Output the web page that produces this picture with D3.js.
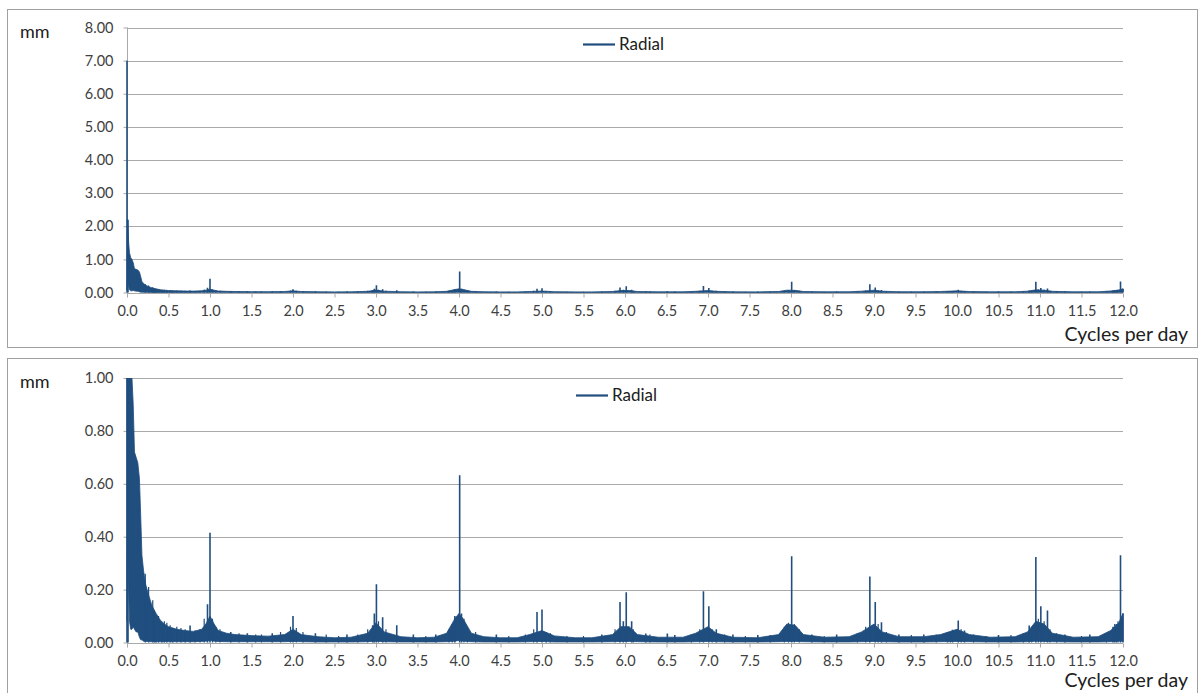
<!DOCTYPE html>
<html>
<head>
<meta charset="utf-8">
<script src="https://cdn.jsdelivr.net/npm/d3@7"></script>
<style>
  html, body { margin: 0; padding: 0; background: #ffffff; }
  svg { display: block; font-family: Lato, "Open Sans", sans-serif; }
</style>
</head>
<body>
<svg id="chart" width="1204" height="693"></svg>
<script>
// ---------------- DATA ----------------
const seriesName = "Radial";
const yUnit = "mm";
const xTitle = "Cycles per day";

// x tick values (cycles per day)
const xTicks = [0, 0.5, 1, 1.5, 2, 2.5, 3, 3.5, 4, 4.5, 5, 5.5, 6, 6.5, 7, 7.5, 8, 8.5, 9, 9.5, 10, 10.5, 11, 11.5, 12];
const yTicksTop = [0, 1, 2, 3, 4, 5, 6, 7, 8];
const yTicksBottom = [0, 0.2, 0.4, 0.6, 0.8, 1.0];

// dense noise floor of the spectrum: frequency, upper and lower envelope (mm)
const bandFreq = [0.000, 0.004, 0.010, 0.020, 0.030, 0.045, 0.060, 0.075, 0.090, 0.110, 0.130, 0.150, 0.165, 0.180, 0.200, 0.225, 0.250, 0.280, 0.300, 0.350, 0.400, 0.450, 0.500, 0.600, 0.700, 0.800, 0.900, 0.950, 1.000, 1.050, 1.100, 1.200, 1.300, 1.500, 1.700, 1.900, 2.000, 2.100, 2.300, 2.500, 2.700, 2.900, 3.000, 3.100, 3.300, 3.500, 3.700, 3.850, 3.950, 4.000, 4.050, 4.150, 4.300, 4.500, 4.700, 4.850, 5.000, 5.150, 5.400, 5.600, 5.850, 5.950, 6.050, 6.150, 6.400, 6.700, 6.850, 7.000, 7.100, 7.300, 7.600, 7.850, 7.950, 8.050, 8.150, 8.400, 8.700, 8.850, 9.000, 9.100, 9.300, 9.600, 9.800, 10.000, 10.150, 10.400, 10.700, 10.850, 10.950, 11.050, 11.150, 11.400, 11.700, 11.850, 11.950, 12.000];
const bandHigh = [1.00, 2.20, 2.00, 1.50, 1.20, 1.05, 1.00, 0.90, 0.72, 0.70, 0.68, 0.62, 0.48, 0.33, 0.27, 0.22, 0.19, 0.16, 0.14, 0.11, 0.085, 0.07, 0.06, 0.05, 0.045, 0.042, 0.05, 0.07, 0.10, 0.07, 0.045, 0.035, 0.03, 0.026, 0.024, 0.03, 0.05, 0.03, 0.022, 0.018, 0.02, 0.035, 0.075, 0.04, 0.022, 0.018, 0.02, 0.035, 0.09, 0.11, 0.09, 0.035, 0.022, 0.018, 0.018, 0.03, 0.045, 0.025, 0.018, 0.018, 0.03, 0.06, 0.06, 0.03, 0.02, 0.02, 0.035, 0.06, 0.035, 0.02, 0.018, 0.03, 0.07, 0.065, 0.03, 0.02, 0.022, 0.04, 0.07, 0.04, 0.022, 0.022, 0.03, 0.05, 0.03, 0.02, 0.022, 0.04, 0.08, 0.07, 0.035, 0.02, 0.022, 0.045, 0.075, 0.11];
const bandLow = [0.08, 0.40, 0.35, 0.20, 0.08, 0.05, 0.05, 0.06, 0.05, 0.04, 0.04, 0.02, 0.01, 0.01, 0.005, 0.004, 0.004, 0.003, 0.003, 0.003, 0.003, 0.003, 0.003, 0.003, 0.003, 0.003, 0.004, 0.005, 0.008, 0.005, 0.004, 0.003, 0.003, 0.003, 0.003, 0.003, 0.004, 0.003, 0.002, 0.002, 0.002, 0.003, 0.005, 0.003, 0.002, 0.002, 0.002, 0.003, 0.005, 0.008, 0.005, 0.003, 0.002, 0.002, 0.002, 0.003, 0.004, 0.002, 0.002, 0.002, 0.003, 0.004, 0.004, 0.003, 0.002, 0.002, 0.003, 0.004, 0.003, 0.002, 0.002, 0.003, 0.004, 0.004, 0.003, 0.002, 0.002, 0.003, 0.004, 0.003, 0.002, 0.002, 0.003, 0.004, 0.003, 0.002, 0.002, 0.003, 0.005, 0.004, 0.003, 0.002, 0.002, 0.003, 0.005, 0.005];

// narrow spectral peaks: frequency (cpd) and amplitude (mm)
const peakFreq = [0.000, 0.012, 0.35, 0.42, 0.55, 0.76, 0.97, 1.000, 1.25, 1.45, 1.75, 2.000, 2.27, 2.65, 2.96, 2.98, 3.005, 3.08, 3.25, 3.45, 3.72, 3.95, 4.008, 4.03, 4.45, 4.94, 5.00, 5.05, 5.72, 5.94, 5.98, 6.015, 6.08, 6.25, 6.51, 6.60, 6.945, 7.01, 7.10, 7.30, 7.60, 8.008, 8.25, 8.55, 8.95, 9.015, 9.09, 9.30, 9.60, 9.886, 9.946, 10.015, 10.09, 10.50, 10.87, 10.95, 11.01, 11.09, 11.30, 11.60, 11.88, 11.92, 11.97, 12.00];
const peakAmp = [7.00, 2.20, 0.07, 0.065, 0.055, 0.064, 0.145, 0.415, 0.04, 0.035, 0.035, 0.100, 0.035, 0.03, 0.065, 0.11, 0.220, 0.095, 0.065, 0.03, 0.03, 0.10, 0.632, 0.11, 0.03, 0.115, 0.125, 0.04, 0.03, 0.153, 0.08, 0.190, 0.08, 0.034, 0.034, 0.028, 0.194, 0.137, 0.05, 0.03, 0.028, 0.326, 0.03, 0.03, 0.250, 0.153, 0.077, 0.03, 0.03, 0.039, 0.048, 0.083, 0.045, 0.028, 0.064, 0.323, 0.137, 0.121, 0.03, 0.03, 0.06, 0.07, 0.330, 0.11];

// small spikes within the noise floor
const minorFreq = [0.22, 0.26, 0.31, 0.33, 0.38, 0.45, 0.48, 0.52, 0.60, 0.65, 0.70, 0.82, 0.88, 0.93, 1.03, 1.07, 1.12, 1.35, 1.55, 1.62, 1.85, 1.97, 2.04, 2.12, 2.40, 2.55, 2.78, 2.90, 3.03, 3.12, 3.60, 3.88, 3.92, 4.06, 4.10, 4.20, 4.60, 4.80, 4.90, 5.10, 5.30, 5.50, 5.88, 6.10, 6.30, 6.80, 6.90, 7.05, 7.20, 7.45, 7.75, 7.92, 7.97, 8.04, 8.10, 8.40, 8.80, 8.90, 9.05, 9.15, 9.45, 9.75, 9.92, 10.05, 10.20, 10.35, 10.65, 10.80, 10.90, 10.98, 11.05, 11.12, 11.20, 11.50, 11.80, 11.90, 11.94];
const minorAmp = [0.26, 0.21, 0.16, 0.12, 0.10, 0.08, 0.075, 0.065, 0.06, 0.055, 0.05, 0.045, 0.05, 0.09, 0.09, 0.06, 0.05, 0.035, 0.03, 0.03, 0.04, 0.06, 0.055, 0.04, 0.03, 0.025, 0.03, 0.05, 0.08, 0.05, 0.025, 0.05, 0.07, 0.09, 0.06, 0.04, 0.025, 0.03, 0.05, 0.035, 0.025, 0.025, 0.05, 0.05, 0.03, 0.03, 0.05, 0.05, 0.03, 0.025, 0.028, 0.06, 0.075, 0.07, 0.05, 0.025, 0.035, 0.06, 0.07, 0.04, 0.028, 0.03, 0.04, 0.05, 0.03, 0.025, 0.028, 0.035, 0.06, 0.09, 0.08, 0.05, 0.035, 0.025, 0.035, 0.07, 0.08];

const band = bandFreq.map((f, i) => ({ f, hi: bandHigh[i], lo: bandLow[i] }));
const peaks = peakFreq.map((f, i) => ({ f, v: peakAmp[i] }));
const minors = minorFreq.map((f, i) => ({ f, v: minorAmp[i] }));

// ---------------- DRAW ----------------
const svg = d3.select("#chart");
const lineColor = "#1f4e7f";
const gridColor = "#a9a9a9";
const textColor = "#404040";
const fontFam = "Lato, 'Open Sans', sans-serif";

function drawPanel(p) {
  const g = svg.append("g");
  // panel border
  g.append("rect")
    .attr("x", 7.5).attr("y", p.boxTop + 0.5)
    .attr("width", 1190).attr("height", p.boxH)
    .attr("fill", "#fff").attr("stroke", "#a0a0a0").attr("stroke-width", 1);

  const x = d3.scaleLinear().domain([0, 12]).range([127, 1123]);
  const y = d3.scaleLinear().domain([0, p.yMax]).range([p.yBot, p.yTop]);

  // horizontal gridlines
  g.append("g").selectAll("line").data(p.yTicks.filter(d => d > 0)).join("line")
    .attr("x1", 127).attr("x2", 1123)
    .attr("y1", d => Math.round(y(d)) + 0.5).attr("y2", d => Math.round(y(d)) + 0.5)
    .attr("stroke", gridColor).attr("stroke-width", 1);

  // y axis
  const ya = g.append("g").attr("transform", "translate(127.5,0)")
    .call(d3.axisLeft(y).tickValues(p.yTicks).tickFormat(d3.format(".2f")).tickSize(4).tickPadding(10));
  ya.select(".domain").attr("stroke", gridColor).attr("d", `M0,${p.yTop}V${p.yBot}`);
  ya.selectAll(".tick line").attr("stroke", gridColor);
  ya.selectAll(".tick text").attr("fill", textColor).style("font-size", "14.5px")
    .style("font-family", fontFam);

  const clipId = "clip" + p.id;
  g.append("clipPath").attr("id", clipId).append("rect")
    .attr("x", 120).attr("y", p.yTop).attr("width", 1010).attr("height", p.yBot - p.yTop + 2);
  const plot = g.append("g").attr("clip-path", `url(#${clipId})`);

  // noise band
  plot.append("path").datum(band)
    .attr("d", d3.area().x(d => x(d.f)).y0(d => y(d.lo)).y1(d => y(d.hi)))
    .attr("fill", lineColor).attr("stroke", lineColor).attr("stroke-width", 0.8);

  // small spikes
  plot.append("g").selectAll("line").data(minors).join("line")
    .attr("x1", d => x(d.f)).attr("x2", d => x(d.f))
    .attr("y1", y(0)).attr("y2", d => y(d.v))
    .attr("stroke", lineColor).attr("stroke-width", 1.2);

  // peaks
  plot.append("g").selectAll("line").data(peaks).join("line")
    .attr("x1", d => x(d.f)).attr("x2", d => x(d.f))
    .attr("y1", y(0)).attr("y2", d => y(d.v))
    .attr("stroke", lineColor).attr("stroke-width", 1.6);

  // x axis
  const xa = g.append("g").attr("transform", `translate(0,${Math.round(p.yBot) + 0.5})`)
    .call(d3.axisBottom(x).tickValues(xTicks).tickFormat(d3.format(".1f")).tickSize(4).tickPadding(p.xPad));
  xa.select(".domain").attr("stroke", gridColor).attr("d", "M127,0H1123");
  xa.selectAll(".tick line").attr("stroke", gridColor);
  xa.selectAll(".tick text").attr("fill", textColor).style("font-size", "14.5px")
    .style("font-family", fontFam);

  // unit label
  g.append("text").attr("x", 20).attr("y", p.yTop + 10)
    .attr("fill", "#202020").style("font-size", "18px").text(yUnit);

  // x title
  g.append("text").attr("x", 1188).attr("y", p.titleY).attr("text-anchor", "end")
    .attr("fill", "#202020").style("font-size", "19.5px").text(xTitle);

  // legend
  g.append("line").attr("x1", p.legX).attr("x2", p.legX + 32)
    .attr("y1", p.legY).attr("y2", p.legY)
    .attr("stroke", lineColor).attr("stroke-width", 2.2);
  g.append("text").attr("x", p.legX + 36).attr("y", p.legY + 5.5)
    .attr("fill", "#202020").style("font-size", "17px").text(seriesName);
}

drawPanel({ id: "top", boxTop: 9, boxH: 338, yMax: 8, yTicks: yTicksTop, yTop: 27.5, yBot: 292.5,
  xPad: 8, titleY: 341, legX: 583, legY: 44.5 });
drawPanel({ id: "bot", boxTop: 358, boxH: 345, yMax: 1, yTicks: yTicksBottom, yTop: 378, yBot: 642.5,
  xPad: 8, titleY: 687, legX: 576, legY: 395.5 });
</script>
</body>
</html>
